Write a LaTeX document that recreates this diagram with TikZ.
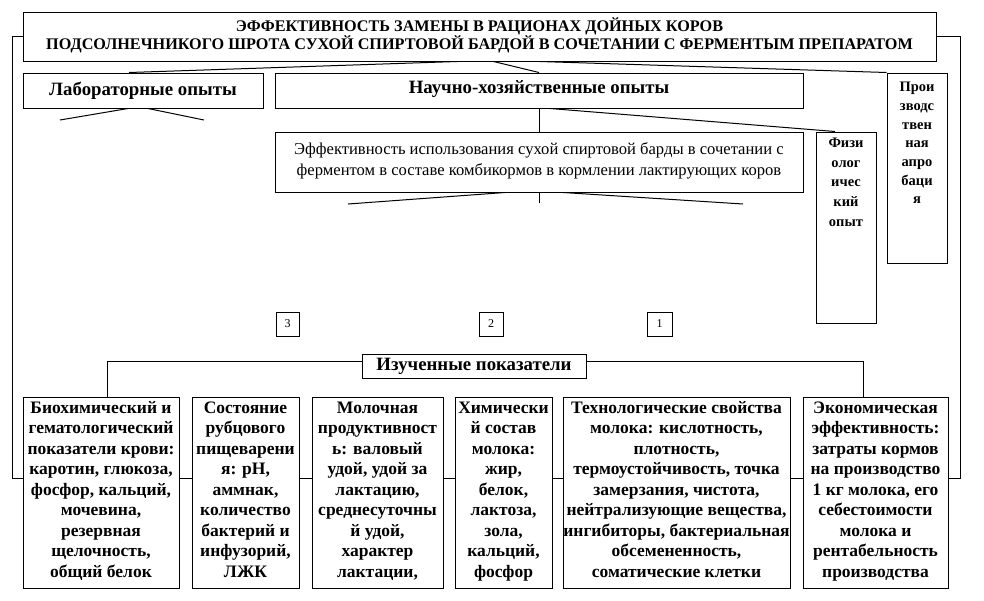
\documentclass[tikz,border=0pt]{standalone}
\usepackage{fontspec}
\setmainfont{Liberation Serif}
\usetikzlibrary{fit}
\begin{document}
\begin{tikzpicture}[x=1pt,y=-1pt,
  box/.style={draw, line width=1pt, inner sep=0pt},
  ln/.style={line width=1pt},
  bt/.style={font=\bfseries\fontsize{17.5}{20.5}\selectfont, align=center, inner sep=0pt, anchor=north},
  vt/.style={font=\bfseries\fontsize{14.5}{19}\selectfont, align=center, inner sep=0pt, anchor=north},
  hd/.style={font=\bfseries\fontsize{18.8}{22}\selectfont, inner sep=0pt},
  num/.style={font=\fontsize{12}{14}\selectfont, inner sep=0pt},
]
\useasboundingbox (0,0) rectangle (984,600);
\fill[white] (0,0) rectangle (984,600);

% boxes
\node[box, fit={(23,12) (936,61)}] (title) {};
\node[box, fit={(23,73) (263,108)}] (lab) {};
\node[box, fit={(275,73) (803,108)}] (sci) {};
\node[box, fit={(887,73) (947,263)}] (prod) {};
\node[box, fit={(816,132) (876,323)}] (phys) {};
\node[box, fit={(275,132) (803,192)}] (eff) {};
\node[box, fit={(276,312) (299,336)}] (n3) {};
\node[box, fit={(479,312) (503,336)}] (n2) {};
\node[box, fit={(647,312) (672,336)}] (n1) {};
\node[box, fit={(362,354) (586,378)}] (iz) {};
\node[box, fit={(23,397) (179,588)}] (A) {};
\node[box, fit={(192,397) (299,588)}] (B) {};
\node[box, fit={(312,397) (443,588)}] (C) {};
\node[box, fit={(455,397) (552,588)}] (D) {};
\node[box, fit={(563,397) (790,588)}] (E) {};
\node[box, fit={(803,397) (948,588)}] (F) {};

% texts
\node[font=\bfseries\fontsize{16.2}{18}\selectfont, align=center, inner sep=0pt] (titletext) at ([yshift=1.5pt]title.center)
  {ЭФФЕКТИВНОСТЬ ЗАМЕНЫ В РАЦИОНАХ ДОЙНЫХ КОРОВ\\ПОДСОЛНЕЧНИКОГО ШРОТА СУХОЙ СПИРТОВОЙ БАРДОЙ В СОЧЕТАНИИ С ФЕРМЕНТЫМ ПРЕПАРАТОМ};
\node[hd] (labtext) at ([yshift=0pt]lab.center) {Лабораторные опыты};
\node[hd] (scitext) at ([yshift=1pt]sci.center) {Научно-хозяйственные опыты};
\node[hd] (iztext) at (iz.center) {Изученные показатели};
\node[font=\fontsize{16.6}{21}\selectfont, align=center, inner sep=0pt] (efftext) at ([yshift=1.5pt]eff.center)
  {Эффективность использования сухой спиртовой барды в сочетании с\\ферментом в составе комбикормов в кормлении лактирующих коров};
\node[vt, font=\bfseries\fontsize{14.5}{18.7}\selectfont] (prodtext) at ([yshift=-6pt]prod.north) {\strut Прои\\зводс\\твен\\ная\\апро\\баци\\я};
\node[vt, font=\bfseries\fontsize{14.5}{19.7}\selectfont] (phystext) at ([yshift=-2pt]phys.north) {\strut Физи\\олог\\ичес\\кий\\опыт};
\node[num] (n3t) at (n3.center) {3};
\node[num] (n2t) at (n2.center) {2};
\node[num] (n1t) at (n1.center) {1};

\begin{scope}
\clip (A.north west) rectangle (A.south east);
\node[bt] (At) at ([yshift=-2pt]A.north) {\strut Биохимический и\\гематологический\\показатели крови:\\каротин, глюкоза,\\фосфор, кальций,\\мочевина,\\резервная\\щелочность,\\общий белок};
\end{scope}
\begin{scope}
\clip (B.north west) rectangle (B.south east);
\node[bt] (Bt) at ([yshift=-2pt]B.north) {\strut Состояние\\рубцового\\пищеварени\\я: pH,\\аммнак,\\количество\\бактерий и\\инфузорий,\\ЛЖК};
\end{scope}
\begin{scope}
\clip (C.north west) rectangle (C.south east);
\node[bt] (Ct) at ([yshift=-2pt]C.north) {\strut Молочная\\продуктивност\\ь: валовый\\удой, удой за\\лактацию,\\среднесуточны\\й удой,\\характер\\лактации,};
\end{scope}
\begin{scope}
\clip (D.north west) rectangle (D.south east);
\node[bt] (Dt) at ([yshift=-2pt]D.north) {\strut Химически\\й состав\\молока:\\жир,\\белок,\\лактоза,\\зола,\\кальций,\\фосфор};
\end{scope}
\begin{scope}
\clip (E.north west) rectangle (E.south east);
\node[bt] (Et) at ([yshift=-2pt]E.north) {\strut Технологические свойства\\молока: кислотность,\\плотность,\\термоустойчивость, точка\\замерзания, чистота,\\нейтрализующие вещества,\\ингибиторы, бактериальная\\обсемененность,\\соматические клетки};
\end{scope}
\begin{scope}
\clip (F.north west) rectangle (F.south east);
\node[bt] (Ft) at ([yshift=-2pt]F.north) {\strut Экономическая\\эффективность:\\затраты кормов\\на производство\\1 кг молока, его\\себестоимости\\молока и\\рентабельность\\производства};
\end{scope}

% fan free ends
\coordinate (lf1) at (60,120);
\coordinate (lf2) at (204,120);
\coordinate (ef1) at (348,204);
\coordinate (ef2) at (539,203);
\coordinate (ef3) at (743,204);

% connectors
\draw[ln] ([xshift=-14pt]lab.north) -- ([xshift=-22pt]title.south);
\draw[ln] ([xshift=14pt]title.south) -- (sci.north);
\draw[ln] ([xshift=60pt]title.south) -- (prod.north west);
\draw[ln] (sci.south) -- (eff.north);
\draw[ln] ([xshift=11pt]sci.south) -- ([xshift=-11pt]phys.north);
\draw[ln] ([xshift=-15pt]lab.south) -- (lf1);
\draw[ln] ([xshift=5pt]lab.south) -- (lf2);
\draw[ln] ([xshift=-34pt]eff.south) -- (ef1);
\draw[ln] (eff.south) -- (ef2);
\draw[ln] ([xshift=24pt]eff.south) -- (ef3);

\draw[ln] (title.west) -- (12,36.5) -- (12,478) -- (A.west |- 0,478);
\draw[ln] (title.east) -- (960,36.5) -- (960,478) -- (F.east |- 0,478);
\draw[ln] (iz.west |- 0,361) -- (107,361) -- (A.north -| 107,0);
\draw[ln] (iz.east |- 0,361) -- (863,361) -- (F.north -| 863,0);
\draw[ln] (A.east |- 0,478) -- (B.west |- 0,478);
\draw[ln] (B.east |- 0,478) -- (C.west |- 0,478);
\draw[ln] (C.east |- 0,478) -- (D.west |- 0,478);
\draw[ln] (D.east |- 0,478) -- (E.west |- 0,478);
\draw[ln] (E.east |- 0,478) -- (F.west |- 0,478);
\end{tikzpicture}
\end{document}
